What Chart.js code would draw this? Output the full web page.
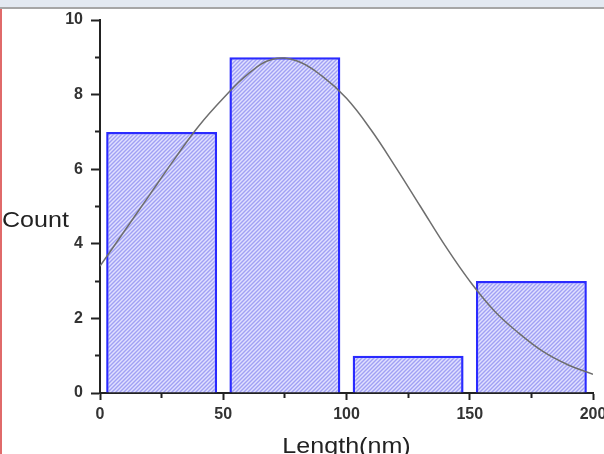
<!DOCTYPE html>
<html>
<head>
<meta charset="utf-8">
<script src="https://cdn.jsdelivr.net/npm/chart.js@4"></script>
<style>
  html, body { margin: 0; padding: 0; background: #fff; }
  #wrap { position: relative; width: 604px; height: 454px; overflow: hidden; }
  #topbar { position: absolute; left: 0; top: 0; width: 604px; height: 7px; background: #e3e9f1; border-bottom: 2px solid #a6a6a6; }
  #leftline { position: absolute; left: 0; top: 9px; width: 2px; height: 445px; background: #e06a6a; }
  canvas { position: absolute; left: 0; top: 0; }
</style>
</head>
<body>
<div id="wrap">
  <canvas id="hist" width="604" height="454"></canvas>
  <div id="topbar"></div>
  <div id="leftline"></div>
</div>
<script>
// ==== Data ====
var binCenters = [25, 75, 125, 175]
var counts = [7, 9, 1, 3]

// gaussian fit curve, sampled every 10 nm
var fitX = [0, 10, 20, 30, 40, 50, 60, 70, 80, 90, 100, 110, 120, 130, 140, 150, 160, 170, 180, 190, 200]
var fitY = [3.4, 4.35, 5.3, 6.25, 7.15, 7.9, 8.55, 8.95, 8.9, 8.5, 7.9, 7.05, 6.05, 5.0, 3.95, 3.0, 2.2, 1.6, 1.1, 0.75, 0.5]

var xTickLabels = [0, 50, 100, 150, 200]
var yTickLabels = [0, 2, 4, 6, 8, 10]

// ==== Hatch pattern for the bars ====
function makeHatch() {
    var c = document.createElement('canvas')
    c.width = 4
    c.height = 4
    var g = c.getContext('2d')
    g.fillStyle = '#e0e0ff'
    g.fillRect(0, 0, 4, 4)
    g.strokeStyle = '#a0a0f4'
    g.lineWidth = 1.4
    g.beginPath()
    g.moveTo(0, 4); g.lineTo(4, 0)
    g.moveTo(-1, 1); g.lineTo(1, -1)
    g.moveTo(3, 5); g.lineTo(5, 3)
    g.stroke()
    return g.createPattern(c, 'repeat')
}

var barData = binCenters.map(function(x, i) { return { x: x, y: counts[i] } })
var fitData = fitX.map(function(x, i) { return { x: x, y: fitY[i] } })

// ==== Axis titles (Count is horizontal in the original, text a bit wide) ====
var axisTitles = {
    id: 'axisTitles',
    afterDraw: function(chart) {
        var ctx = chart.ctx
        var area = chart.chartArea
        var sx = 1.14
        ctx.save()
        ctx.fillStyle = '#222'
        ctx.font = '22px "Liberation Sans", Arial, sans-serif'
        ctx.textBaseline = 'alphabetic'
        ctx.scale(sx, 1)
        ctx.textAlign = 'left'
        ctx.fillText('Count', 2 / sx, 227)
        ctx.textAlign = 'center'
        ctx.fillText('Length(nm)', (area.left + area.right) / 2 / sx, 453)
        ctx.restore()
    }
}

var tickFont = { family: '"Liberation Sans", Arial, sans-serif', size: 16, weight: 'bold' }

var config = {
    type: 'bar',
    data: {
        datasets: [{
            type: 'line',
            data: fitData,
            borderColor: '#6e6e6e',
            borderWidth: 1.5,
            pointRadius: 0,
            tension: 0.4,
            order: 0
        }, {
            type: 'bar',
            data: barData,
            backgroundColor: makeHatch(),
            borderColor: '#2a2aff',
            borderWidth: 2.5,
            // ticks every 25 set the sample size, bins are 50 wide -> 0.9 of a bin
            barPercentage: 1.8,
            categoryPercentage: 1,
            order: 1
        }]
    },
    options: {
        responsive: false,
        animation: false,
        layout: {
            padding: { top: 20, right: 11, left: 0, bottom: 0 }
        },
        plugins: {
            legend: false,
            tooltip: { enabled: false }
        },
        scales: {
            x: {
                type: 'linear',
                min: 0,
                max: 200,
                offset: false,
                border: { color: '#222', width: 2 },
                grid: {
                    offset: false,
                    drawOnChartArea: false,
                    tickLength: 7,
                    tickWidth: 2,
                    tickColor: '#222',
                    tickBorderDash: function(c) {
                        return xTickLabels.indexOf(c.tick.value) >= 0 ? [] : [4, 30]
                    }
                },
                ticks: {
                    stepSize: 25,
                    autoSkip: false,
                    maxRotation: 0,
                    padding: 5,
                    color: '#333',
                    font: tickFont,
                    callback: function(v) { return xTickLabels.indexOf(v) >= 0 ? v : '' }
                },
                afterFit: function(scale) {
                    scale.height = 61
                    scale.paddingLeft = 0
                    scale.paddingRight = 0
                }
            },
            y: {
                min: 0,
                max: 10,
                border: { color: '#222', width: 2 },
                grid: {
                    drawOnChartArea: false,
                    tickLength: 9,
                    tickWidth: 2,
                    tickColor: '#222',
                    // minor ticks: shorter, drawn from the outer end
                    tickBorderDash: function(c) {
                        return yTickLabels.indexOf(c.tick.value) >= 0 ? [] : [0, 4, 5, 30]
                    }
                },
                ticks: {
                    stepSize: 1,
                    autoSkip: false,
                    padding: 8,
                    color: '#333',
                    font: tickFont,
                    callback: function(v) { return yTickLabels.indexOf(v) >= 0 ? v : '' }
                },
                afterFit: function(scale) {
                    scale.width = 100
                }
            }
        }
    },
    plugins: [axisTitles]
}

var ctx = document.getElementById('hist').getContext('2d')
new Chart(ctx, config)
</script>
</body>
</html>
